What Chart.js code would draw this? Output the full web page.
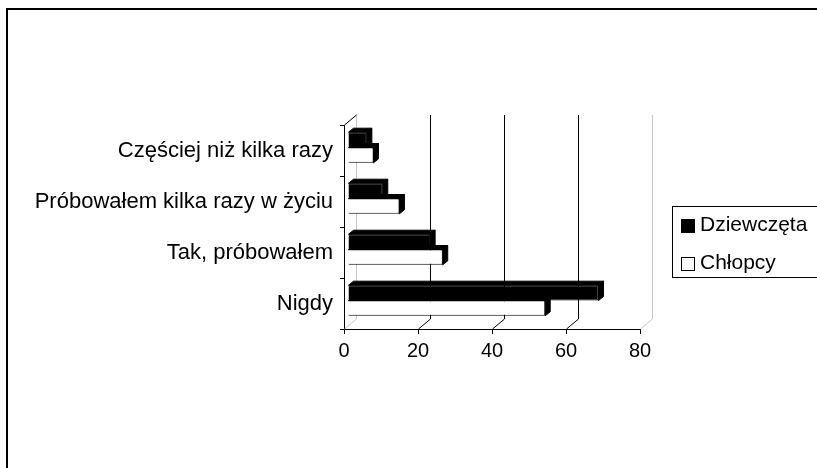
<!DOCTYPE html>
<html>
<head>
<meta charset="utf-8">
<script src="https://cdn.jsdelivr.net/npm/chart.js@4/dist/chart.umd.min.js"></script>
<style>
  html, body { margin: 0; padding: 0; background: #fff; }
  #wrap { width: 817px; height: 468px; position: relative; }
</style>
</head>
<body>
<div id="wrap"><canvas id="c" width="817" height="468"></canvas></div>
<script>
const categories = ['Częściej niż kilka razy', 'Próbowałem kilka razy w życiu', 'Tak, próbowałem', 'Nigdy'];
const seriesNames = ['Dziewczęta', 'Chłopcy'];
const dziewczeta = [5.1, 9.4, 22.2, 67.7];
const chlopcy = [6.9, 13.9, 25.6, 53.3];
const xTicks = [0, 20, 40, 60, 80];

const FONT = "'Liberation Sans', Arial, sans-serif";
const WALL = { dx: 12, dy: -10 };   // depth of the 3D box
const BAR_SHIFT = { dx: 4, dy: -3 }; // bars sit slightly behind the front plane
const BAR_DEPTH = { dx: 5, dy: -4 };

function poly(ctx, pts) {
  ctx.beginPath();
  ctx.moveTo(pts[0][0], pts[0][1]);
  for (let i = 1; i < pts.length; i++) ctx.lineTo(pts[i][0], pts[i][1]);
  ctx.closePath();
}
function line(ctx, x1, y1, x2, y2, color) {
  ctx.strokeStyle = color;
  ctx.lineWidth = 1;
  ctx.beginPath();
  ctx.moveTo(x1, y1);
  ctx.lineTo(x2, y2);
  ctx.stroke();
}

const depthPlugin = {
  id: 'depth3d',
  beforeDraw(chart) {
    const ctx = chart.ctx;
    ctx.save();
    ctx.fillStyle = '#fff';
    ctx.fillRect(0, 0, chart.width, chart.height);
    ctx.strokeStyle = '#000';
    ctx.lineWidth = 2;
    ctx.strokeRect(7, 9, 900, 900);
    ctx.restore();
  },
  beforeDatasetsDraw(chart) {
    const ctx = chart.ctx;
    const a = chart.chartArea;
    const xs = chart.scales.x;
    ctx.save();
    xTicks.forEach((v, i) => {
      const px = Math.round(xs.getPixelForValue(v)) + 0.5;
      const edge = (i === 0 || i === xTicks.length - 1);
      const col = edge ? '#c8c8c8' : '#000';
      line(ctx, px + WALL.dx, a.top + WALL.dy, px + WALL.dx, a.bottom + WALL.dy, col);
      line(ctx, px, a.bottom, px + WALL.dx, a.bottom + WALL.dy, col);
    });
    const x0 = Math.round(xs.getPixelForValue(0)) + 0.5;
    line(ctx, x0, a.top, x0 + WALL.dx, a.top + WALL.dy, '#000');
    ctx.restore();

    ctx.save();
    ctx.translate(BAR_SHIFT.dx, BAR_SHIFT.dy);
    ctx.fillStyle = '#000';
    ctx.strokeStyle = '#000';
    ctx.lineWidth = 1;
    chart.data.datasets.forEach((ds, di) => {
      const meta = chart.getDatasetMeta(di);
      meta.data.forEach(el => {
        const p = el.getProps(['x', 'y', 'base', 'height'], true);
        const top = p.y - p.height / 2, bottom = p.y + p.height / 2;
        const left = p.base, right = p.x;
        poly(ctx, [[left, top], [right, top], [right + BAR_DEPTH.dx, top + BAR_DEPTH.dy], [left + BAR_DEPTH.dx, top + BAR_DEPTH.dy]]);
        ctx.fill(); ctx.stroke();
        poly(ctx, [[right, top], [right, bottom], [right + BAR_DEPTH.dx, bottom + BAR_DEPTH.dy], [right + BAR_DEPTH.dx, top + BAR_DEPTH.dy]]);
        ctx.fill(); ctx.stroke();
      });
    });
    ctx.restore();
    ctx.save();
    ctx.translate(BAR_SHIFT.dx, BAR_SHIFT.dy);
  },
  afterDatasetsDraw(chart) {
    chart.ctx.restore();
  },
  afterDraw(chart) {
    const ctx = chart.ctx;
    ctx.save();
    ctx.strokeStyle = '#000';
    ctx.lineWidth = 1;
    ctx.strokeRect(672.5, 206.5, 200, 71);
    ctx.font = '21px ' + FONT;
    ctx.textBaseline = 'alphabetic';
    ctx.textAlign = 'left';
    const rows = [{ y: 219.5, base: 231 }, { y: 257.5, base: 269 }];
    chart.data.datasets.forEach((ds, i) => {
      const r = rows[i];
      ctx.fillStyle = ds.backgroundColor;
      ctx.fillRect(681.5, r.y, 13, 13);
      ctx.strokeStyle = '#000';
      ctx.strokeRect(681.5, r.y, 13, 13);
      ctx.fillStyle = '#000';
      ctx.fillText(ds.label, 700, r.base);
    });
    ctx.restore();
  }
};

const chart = new Chart(document.getElementById('c'), {
  type: 'bar',
  data: {
    labels: categories,
    datasets: [
      { label: seriesNames[0], data: dziewczeta, backgroundColor: '#000000', borderColor: '#000', borderWidth: 1 },
      { label: seriesNames[1], data: chlopcy, backgroundColor: '#ffffff', borderColor: '#000', borderWidth: 1 }
    ]
  },
  options: {
    indexAxis: 'y',
    responsive: false,
    animation: false,
    devicePixelRatio: 1,
    categoryPercentage: 0.6,
    barPercentage: 1.0,
    layout: { padding: { left: 4, top: 125, right: 177, bottom: 99 } },
    plugins: {
      legend: { display: false },
      tooltip: { enabled: false },
      title: { display: false }
    },
    scales: {
      x: {
        min: 0, max: 80,
        afterBuildTicks(s) { s.ticks = xTicks.map(v => ({ value: v })); },
        afterFit(s) { s.height = 40; },
        grid: { drawOnChartArea: false, drawTicks: true, tickLength: 5, color: '#000' },
        border: { display: true, color: '#000', width: 1 },
        ticks: { color: '#000', font: { family: FONT, size: 20 }, padding: 5, maxRotation: 0 }
      },
      y: {
        afterFit(s) { s.width = 340; },
        grid: { drawOnChartArea: false, drawTicks: true, tickLength: 4, color: '#000', offset: true },
        border: { display: true, color: '#000', width: 1 },
        ticks: { color: '#000', font: { family: FONT, size: 22 }, padding: 7 }
      }
    }
  },
  plugins: [depthPlugin]
});
</script>
</body>
</html>
